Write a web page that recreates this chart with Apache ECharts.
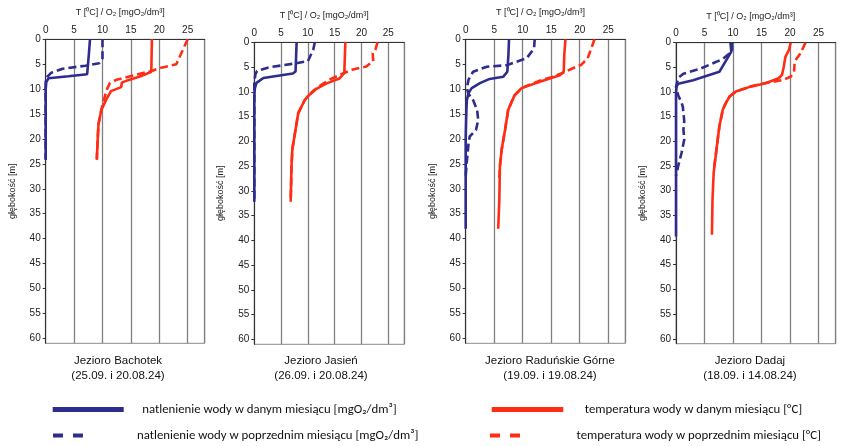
<!DOCTYPE html>
<html><head><meta charset="utf-8">
<script src="https://cdn.jsdelivr.net/npm/echarts@6/dist/echarts.min.js"></script>
<style>html,body{margin:0;padding:0;background:#fff}#c{width:846px;height:446px}</style>
</head><body><div id="c"></div>
<script>
// ---- data: [value, depth m] ----
const lakeNames = ['Jezioro Bachotek\n(25.09. i 20.08.24)','Jezioro Jasień\n(26.09. i 20.08.24)','Jezioro Raduńskie Górne\n(19.09. i 19.08.24)','Jezioro Dadaj\n(18.09. i 14.08.24)'];
const xTicks = [0,5,10,15,20,25];
const yTicks = [0,5,10,15,20,25,30,35,40,45,50,55,60];
const seriesNames = ['natlenienie wody w danym miesiącu [mgO₂/dm³]','natlenienie wody w poprzednim miesiącu [mgO₂/dm³]','temperatura wody w danym miesiącu [°C]','temperatura wody w poprzednim miesiącu [°C]'];

const bachotekO2Now = [[7.8,0],[7.6,3],[7.3,7.0],[4,7.4],[0.5,7.8],[0.1,8.6],[0,10],[0,24.2]];
const bachotekO2Prev = [[10,0],[10,3.8],[9.4,4.8],[7,5.3],[3,5.9],[1,6.7],[0.3,7.5],[0,8.5],[0,24]];
const bachotekTNow = [[18.7,0],[18.6,6.5],[17,7.3],[14.5,8.2],[13.4,8.7],[13.3,9.6],[11.5,10.4],[10.7,12],[9.8,14.2],[9.3,17],[9.2,19],[9.0,24.2]];
const bachotekTPrev = [[25,0],[24,2.5],[23,5],[20,5.8],[18.8,6.3],[16,7.1],[12.5,8.1],[11.3,8.8],[10.8,10],[10.4,11.5],[10,13],[9.8,14.2],[9.3,17],[9.2,19],[9.0,24]];

const jasienO2Now = [[7.9,0],[7.8,3],[7.7,5.9],[7.2,6.3],[1.7,7.2],[0.4,8.2],[0.1,9.3],[0,11],[0,32.2]];
const jasienO2Prev = [[11.3,0],[11,1.5],[10,3.8],[7.5,4.3],[3,5],[0.5,5.8],[0.2,6.5],[0,8],[0,32]];
const jasienTNow = [[17,0],[16.9,3],[16.8,6.2],[15.9,7.3],[13.5,8.3],[11.6,9.4],[10,10.9],[9.4,11.7],[8.2,14.3],[7.6,18.3],[7.1,21.6],[6.95,24.9],[6.8,31.6],[6.8,32.2]];
const jasienTPrev = [[23,0],[22.6,1.5],[22.1,2.2],[22.2,3.8],[20.9,4.9],[18.4,5.5],[15.9,6.6],[14.1,7.5],[12.5,8.6],[11,9.8],[10,10.9],[9.4,11.7],[8.2,14.3],[7.6,18.3],[7.1,21.6],[6.95,24.9],[6.8,32]];

const radunO2Now = [[7.6,0],[7.5,3],[7.3,6.5],[6.6,7.5],[4.2,7.95],[2.5,8.8],[1.05,9.8],[0.5,10.8],[0.2,12.2],[0.1,15],[0,20],[0,38]];
const radunO2Prev = [[12.1,0],[12,1.8],[10.7,3.8],[8.9,4.5],[7.2,5.2],[3.7,5.5],[1.3,6.5],[0.5,8.1],[0.2,9.8],[0.5,11],[1.3,12.2],[2.0,14.2],[2.2,16.2],[1.8,18.2],[0.7,19.5],[0.5,20.9],[0.2,24.5],[0,27.5]];
const radunTNow = [[17.5,0],[17.3,3],[17.2,6.5],[16.5,7.2],[13,8.5],[9.8,9.8],[8.6,11.2],[8.2,12.2],[7.45,14.2],[6.9,18.2],[6.3,22.2],[6.0,25.5],[5.9,32.2],[5.7,38]];
const radunTPrev = [[22.6,0],[21.4,3.8],[20.3,5.1],[18.8,5.8],[17.1,6.7],[15,7.6],[13,8.3],[10,9.7],[8.6,11.2],[8.2,12.2],[7.45,14.2],[6.9,18.2],[6.3,22.2],[6.0,25.5],[5.9,28]];

const dadajO2Now = [[9.55,0],[9.7,1.8],[7.6,5.9],[3.0,7.6],[0.4,8.3],[0.1,8.9],[0,10],[0,39.3]];
const dadajO2Prev = [[9.8,0],[9.8,1.8],[8.2,3.3],[4.2,5.3],[1.3,6.3],[0.5,7.0],[0.2,8],[0,9],[0.4,10.7],[1.0,12.2],[1.2,13],[1.45,15.9],[1.3,17.6],[1.45,19.6],[1.0,22.2],[0.4,24.9],[0.1,26.5],[0,27]];
const dadajTNow = [[20.1,0],[19.8,1.5],[19.2,2.8],[18.9,4.8],[18.6,6.5],[18,7.2],[15.7,8.2],[12.8,9.0],[10.5,9.9],[9.4,10.9],[8.7,12.3],[8.2,13.6],[7.6,17],[7.1,21.6],[6.6,26.4],[6.4,31.8],[6.3,38.9]];
const dadajTPrev = [[22.7,0],[21.8,2.2],[20.8,3.8],[20.7,5.9],[20.1,6.9],[18.6,7.6],[16,8.1],[13,8.9],[10.5,9.9],[9.4,10.9],[8.7,12.3],[8.2,13.6],[7.6,17],[7.1,21.6],[6.6,26]];

const lakes = [
  [bachotekO2Now, bachotekO2Prev, bachotekTNow, bachotekTPrev],
  [jasienO2Now, jasienO2Prev, jasienTNow, jasienTPrev],
  [radunO2Now, radunO2Prev, radunTNow, radunTPrev],
  [dadajO2Now, dadajO2Prev, dadajTNow, dadajTPrev]
];

// ---- layout / style ----
const BLUE = '#2e2c8f', RED = '#ff2d16';
const FONT = "'Liberation Sans', Arial, sans-serif";
const grids = [
  {left:45.7, top:39.3, width:159, height:304},
  {left:254.3, top:42.3, width:150, height:302},
  {left:465.7, top:39.3, width:159.6, height:304},
  {left:676, top:42.7, width:159.7, height:301}
];
const titleX = [113, 316, 545, 745];
const styles = [
  {color: BLUE, type: 'solid'},
  {color: BLUE, type: [8,4]},
  {color: RED, type: 'solid'},
  {color: RED, type: [8,4]}
];

const option = {
  animation: false,
  backgroundColor: '#fff',
  textStyle: {fontFamily: FONT},
  title: lakeNames.map((t,i) => ({
    text: t, left: titleX[i], top: 348, textAlign: 'center',
    textStyle: {fontSize: 11.5, fontWeight: 'normal', color: '#111', lineHeight: 15, fontFamily: FONT}
  })),
  grid: grids.map(g => Object.assign({show: true, borderColor: '#8a8a8a', borderWidth: 1, containLabel: false}, g)),
  xAxis: grids.map((g,i) => ({
    type: 'value', gridIndex: i, position: 'top', min: 0, max: 28, interval: 5,
    name: 'T [⁰C] / O₂ [mgO₂/dm³]', nameLocation: 'middle', nameGap: 22,
    nameTextStyle: {fontSize: 9, color: '#222', fontFamily: FONT, padding: [0,10,0,0]},
    axisLine: {show: true, onZero: false, lineStyle: {color: '#333', width: 1}},
    axisTick: {show: false},
    axisLabel: {fontSize: 10, color: '#222', margin: 4, customValues: xTicks,
      formatter: v => (xTicks.indexOf(v) >= 0 ? String(v) : '')},
    splitLine: {show: true, lineStyle: {color: '#808080', width: 1.3}}
  })),
  yAxis: grids.map((g,i) => ({
    type: 'value', gridIndex: i, inverse: true, min: 0, max: 61, interval: 5,
    name: 'głębokość [m]', nameLocation: 'middle', nameGap: 29, nameRotate: 90,
    nameTextStyle: {fontSize: 9, color: '#222', fontFamily: FONT},
    axisLine: {show: true, onZero: false, lineStyle: {color: '#333', width: 1}},
    axisTick: {show: true, length: 3, customValues: yTicks, lineStyle: {color: '#333'}},
    axisLabel: {fontSize: 10, color: '#222', margin: 5, customValues: yTicks,
      formatter: v => (yTicks.indexOf(v) >= 0 ? String(v) : '')},
    splitLine: {show: false}
  })),
  legend: [
    {left: 47.7, top: 398, icon: 'rect', itemWidth: 71, itemHeight: 5, data: [seriesNames[0]], pad: 13.5},
    {left: 48, top: 424, icon: 'path://M0,0H10V4H0Z M20,0H30V4H20Z', itemWidth: 30, itemHeight: 4, data: [seriesNames[1]], pad: 49},
    {left: 486.7, top: 398, icon: 'rect', itemWidth: 71.6, itemHeight: 5, data: [seriesNames[2]], pad: 16.5},
    {left: 485, top: 424, icon: 'path://M0,0H10V4H0Z M20,0H30V4H20Z', itemWidth: 31, itemHeight: 4, data: [seriesNames[3]], pad: 51}
  ].map(l => ({
    left: l.left, top: l.top, icon: l.icon, itemWidth: l.itemWidth, itemHeight: l.itemHeight,
    data: l.data, selectedMode: false, orient: 'horizontal',
    itemStyle: {borderWidth: 0}, lineStyle: {width: 0},
    textStyle: {fontSize: 12.8, color: '#111', fontFamily: "Carlito, 'Liberation Sans', sans-serif", padding: [0,0,0,l.pad]}
  })),
  series: []
};

lakes.forEach((curves, i) => {
  curves.forEach((d, k) => {
    option.series.push({
      type: 'line', name: seriesNames[k], xAxisIndex: i, yAxisIndex: i,
      data: d, symbol: 'none', showSymbol: false, clip: false, z: 3 + (k >= 2 ? 1 : 0),
      color: styles[k].color,
      lineStyle: {color: styles[k].color, width: 2.6, type: styles[k].type}
    });
  });
});

const chart = echarts.init(document.getElementById('c'), null, {renderer: 'canvas'});
chart.setOption(option);
</script>
</body></html>
